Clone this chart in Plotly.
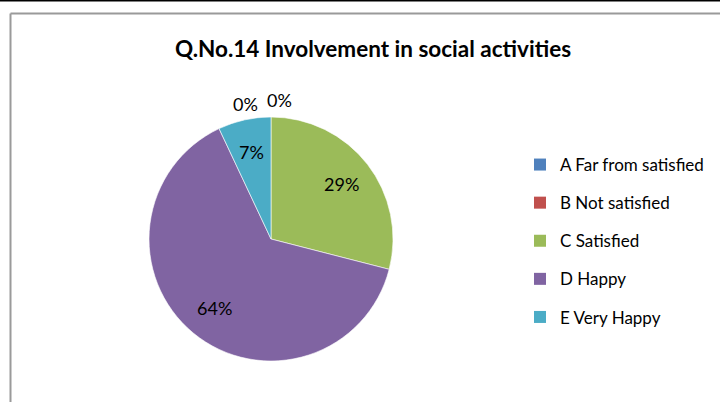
import math
import plotly.graph_objects as go

categories = ["A Far from satisfied", "B Not satisfied", "C Satisfied", "D Happy", "E Very Happy"]
values = [0, 0, 29, 64, 7]
colors = ["#4F81BD", "#C0504D", "#9BBB59", "#8064A2", "#4BACC6"]
title = "Q.No.14 Involvement in social activities"

W, H = 720, 402
cx, cy, r = 271, 239, 122
FONT = "Lato, Open Sans, sans-serif"
total = sum(values)

fig = go.Figure()
fig.add_trace(go.Pie(
    labels=categories,
    values=values,
    marker=dict(colors=colors, line=dict(color="white", width=0.6)),
    sort=False,
    direction="clockwise",
    rotation=0,
    textinfo="none",
    showlegend=False,
    hoverinfo="label+percent",
    domain=dict(x=[(cx - r) / W, (cx + r) / W], y=[(H - cy - r) / H, (H - cy + r) / H]),
))

# legend entries (one per category, same colours as the slices)
for i, (cat, col) in enumerate(zip(categories, colors)):
    fig.add_trace(go.Scatter(
        x=[None], y=[None], mode="markers", name=cat, legendgroup=f"g{i}",
        marker=dict(symbol="square", size=10, color=col),
        showlegend=True, hoverinfo="skip",
    ))

# percentage labels, placed from the slice angles (clockwise from 12 o'clock)
label_frac = 0.73
zero_pos = [(245, 104), (279, 100)]  # zero-size slices: labels sit above the pie top
annotations = []
cum = 0.0
zi = 0
for v in values:
    txt = f"{v / total:.0%}"
    if v == 0:
        px, py = zero_pos[zi]
        zi += 1
    else:
        mid = (cum + v / 2) / total * 2 * math.pi
        px = cx + r * label_frac * math.sin(mid)
        py = cy - r * label_frac * math.cos(mid)
    cum += v
    annotations.append(dict(text=txt, xref="paper", yref="paper",
                            x=px / W, y=1 - py / H, xanchor="center", yanchor="middle",
                            showarrow=False, font=dict(family=FONT, size=18, color="black")))

fig.update_layout(
    width=W, height=H,
    margin=dict(l=0, r=0, t=0, b=0),
    paper_bgcolor="white",
    plot_bgcolor="white",
    xaxis=dict(visible=False),
    yaxis=dict(visible=False),
    title=dict(text="<b>" + title + "</b>", x=373 / W, xanchor="center", y=1 - 49 / H, yanchor="middle",
               font=dict(family=FONT, size=22.5, color="black")),
    legend=dict(x=520 / W, y=1 - 147 / H, xanchor="left", yanchor="top",
                font=dict(family=FONT, size=17, color="black"),
                itemsizing="constant", tracegroupgap=13, itemwidth=30,
                bgcolor="rgba(0,0,0,0)", itemclick=False, itemdoubleclick=False),
    annotations=annotations,
    shapes=[
        dict(type="line", xref="paper", yref="paper", x0=0, x1=1, y0=1 - 0.75 / H, y1=1 - 0.75 / H,
             line=dict(color="black", width=1.5)),
        dict(type="line", xref="paper", yref="paper", x0=10.5 / W, x1=1.01, y0=1 - 13.5 / H, y1=1 - 13.5 / H,
             line=dict(color="#9A9A9A", width=2)),
        dict(type="line", xref="paper", yref="paper", x0=10.5 / W, x1=10.5 / W, y0=1 - 13.5 / H, y1=-0.01,
             line=dict(color="#9A9A9A", width=2)),
    ],
)

fig.write_html("out.html", config={"displayModeBar": False},
               post_script="document.body.style.margin='0';document.body.style.overflow='hidden';"
                           "document.body.style.fontVariantLigatures='none';")
